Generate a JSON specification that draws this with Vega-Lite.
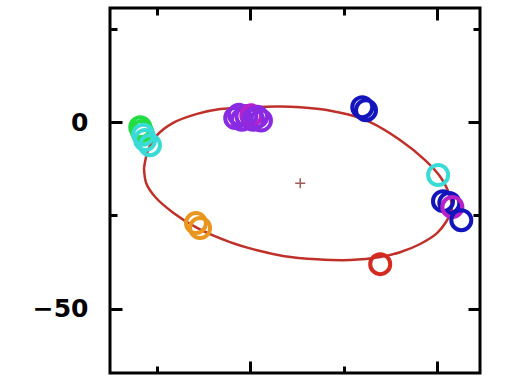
{
  "$schema": "https://vega.github.io/schema/vega-lite/v6.json",
  "autosize": "none",
  "width": 370,
  "height": 365,
  "padding": {"left": 110, "top": 8, "right": 41, "bottom": 7},
  "background": "white",
  "config": {
    "view": {"stroke": "black", "strokeWidth": 3},
    "axis": {"domain": false, "grid": false, "title": null, "tickColor": "black", "tickWidth": 3, "labelFont": "DejaVu Sans", "labelFontSize": 25, "labelFontWeight": "bold", "labelColor": "black"}
  },
  "datasets": {
    "ellipse": [
      {"i": 0, "x": -28.4, "y": -12.3},
      {"i": 1, "x": -27.3, "y": -7.5},
      {"i": 2, "x": -24.9, "y": -3.5},
      {"i": 3, "x": -20.6, "y": -0.2},
      {"i": 4, "x": -14.2, "y": 2.2},
      {"i": 5, "x": -8.0, "y": 3.5},
      {"i": 6, "x": 0.0, "y": 4.0},
      {"i": 7, "x": 8.0, "y": 4.2},
      {"i": 8, "x": 17.9, "y": 3.6},
      {"i": 9, "x": 26.0, "y": 2.1},
      {"i": 10, "x": 32.1, "y": 0.0},
      {"i": 11, "x": 40.1, "y": -4.8},
      {"i": 12, "x": 46.8, "y": -10.2},
      {"i": 13, "x": 51.1, "y": -15.0},
      {"i": 14, "x": 53.6, "y": -20.4},
      {"i": 15, "x": 53.9, "y": -23.6},
      {"i": 16, "x": 52.4, "y": -26.8},
      {"i": 17, "x": 50.0, "y": -29.8},
      {"i": 18, "x": 45.5, "y": -32.7},
      {"i": 19, "x": 40.1, "y": -34.9},
      {"i": 20, "x": 34.8, "y": -36.2},
      {"i": 21, "x": 26.8, "y": -37.0},
      {"i": 22, "x": 17.9, "y": -36.8},
      {"i": 23, "x": 8.8, "y": -35.9},
      {"i": 24, "x": 2.7, "y": -34.6},
      {"i": 25, "x": -5.4, "y": -32.2},
      {"i": 26, "x": -14.2, "y": -28.4},
      {"i": 27, "x": -20.6, "y": -24.3},
      {"i": 28, "x": -25.4, "y": -20.1},
      {"i": 29, "x": -27.8, "y": -16.4},
      {"i": 30, "x": -28.4, "y": -12.3}
    ],
    "points": [
      {"x": -29.4, "y": -1.4, "g": "green"},
      {"x": -29.0, "y": -2.4, "g": "green"},
      {"x": -28.6, "y": -3.4, "g": "cyan"},
      {"x": -28.1, "y": -4.8, "g": "cyan"},
      {"x": -26.8, "y": -6.2, "g": "cyan"},
      {"x": -4.0, "y": 1.1, "g": "purple"},
      {"x": -3.0, "y": 2.0, "g": "purple"},
      {"x": -2.2, "y": 0.6, "g": "purple"},
      {"x": -1.0, "y": 1.6, "g": "purple"},
      {"x": 0.3, "y": 1.8, "g": "magenta"},
      {"x": 0.8, "y": 0.6, "g": "purple"},
      {"x": 1.9, "y": 1.4, "g": "purple"},
      {"x": 2.9, "y": 0.4, "g": "purple"},
      {"x": 30.0, "y": 4.0, "g": "blue"},
      {"x": 31.0, "y": 3.2, "g": "blue"},
      {"x": 50.3, "y": -14.2, "g": "cyan"},
      {"x": 51.6, "y": -21.2, "g": "blue"},
      {"x": 53.3, "y": -21.7, "g": "blue"},
      {"x": 54.1, "y": -22.8, "g": "magenta"},
      {"x": 56.5, "y": -26.3, "g": "blue"}
    ],
    "points2": [
      {"x": -14.5, "y": -27.1, "g": "orange"},
      {"x": -13.4, "y": -28.4, "g": "orange"},
      {"x": 34.8, "y": -38.1, "g": "red"}
    ],
    "center": [
      {"x": 13.4, "y": -16.4}
    ]
  },
  "layer": [
    {
      "data": {"name": "ellipse"},
      "mark": {"type": "line", "color": "#c0302a", "strokeWidth": 2.5, "interpolate": "catmull-rom"},
      "encoding": {
        "x": {"field": "x", "type": "quantitative", "scale": {"domain": [-37.5, 61.5], "nice": false, "zero": false},
              "axis": {"orient": "bottom", "values": [0, 50], "tickSize": -12, "labels": false}},
        "y": {"field": "y", "type": "quantitative", "scale": {"domain": [-67.3, 30.6], "nice": false, "zero": false},
              "axis": {"orient": "left", "values": [-50, 0], "tickSize": -12, "labelPadding": 34}},
        "order": {"field": "i", "type": "quantitative"}
      }
    },
    {
      "data": {"name": "points"},
      "mark": {"type": "point", "shape": "circle", "filled": false, "size": 400, "strokeWidth": 4, "opacity": 1},
      "encoding": {
        "x": {"field": "x", "type": "quantitative",
              "axis": {"orient": "bottom", "values": [-25, 25], "tickSize": -7, "labels": false}},
        "y": {"field": "y", "type": "quantitative",
              "axis": {"orient": "left", "values": [-25, 25], "tickSize": -7, "labels": false}},
        "color": {"field": "g", "type": "nominal", "legend": null,
                  "scale": {"domain": ["green", "cyan", "purple", "magenta", "blue", "orange", "red"],
                            "range": ["#22dd44", "#3adbd6", "#8a2be2", "#b820c8", "#1414bc", "#e8961e", "#d42a20"]}}
      }
    },
    {
      "data": {"name": "center"},
      "mark": {"type": "point", "shape": "M-1,0H1M0,-1V1", "size": 100, "strokeWidth": 1.5, "color": "#a05a5a", "filled": false, "opacity": 1},
      "encoding": {
        "x": {"field": "x", "type": "quantitative",
              "axis": {"orient": "top", "values": [0, 50], "tickSize": -12, "labels": false}},
        "y": {"field": "y", "type": "quantitative",
              "axis": {"orient": "right", "values": [-50, 0], "tickSize": -12, "labels": false}}
      }
    },
    {
      "data": {"name": "points2"},
      "mark": {"type": "point", "shape": "circle", "filled": false, "size": 400, "strokeWidth": 4, "opacity": 1},
      "encoding": {
        "x": {"field": "x", "type": "quantitative",
              "axis": {"orient": "top", "values": [-25, 25], "tickSize": -7, "labels": false}},
        "y": {"field": "y", "type": "quantitative",
              "axis": {"orient": "right", "values": [-25, 25], "tickSize": -7, "labels": false}},
        "color": {"field": "g", "type": "nominal", "legend": null}
      }
    }
  ],
  "resolve": {"axis": {"x": "independent", "y": "independent"}}
}
